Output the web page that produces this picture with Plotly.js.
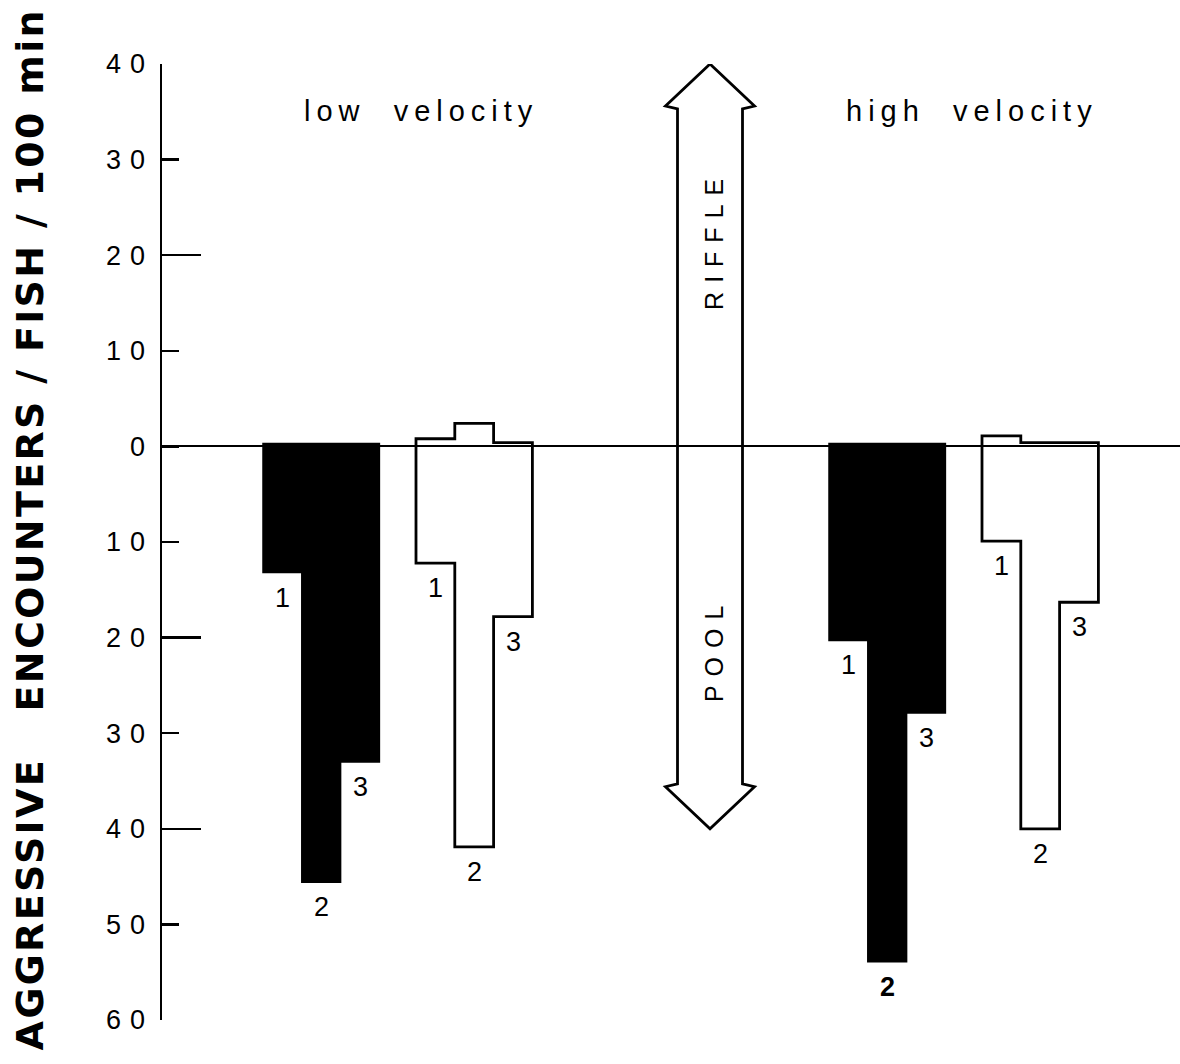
<!DOCTYPE html>
<html>
<head>
<meta charset="utf-8">
<script src="https://cdn.plot.ly/plotly-3.0.1.min.js"></script>
<style>
  html, body { margin: 0; padding: 0; background: #fff; }
  #chart { width: 1180px; height: 1064px; }
  .annotation[data-index="0"] text { letter-spacing: 2.3px; }
  .annotation[data-index="1"] text, .annotation[data-index="2"] text { letter-spacing: 6px; }
  .annotation[data-index="3"] text, .annotation[data-index="4"] text { letter-spacing: 9px; }
  .ytick text { letter-spacing: 9px; }
</style>
</head>
<body>
<div id="chart"></div>
<script>
// ---------- data ----------
const velocities = ['low velocity', 'high velocity'];
const trials = ['1', '2', '3'];
const zoneUp = 'RIFFLE';
const zoneDown = 'POOL';
const yTitle = 'AGGRESSIVE\u00a0\u00a0\u00a0ENCOUNTERS / FISH / 100 min';
const yTickVals = [40, 30, 20, 10, 0, -10, -20, -30, -40, -50, -60];
const yTickText = ['40', '30', '20', '10', '0', '10', '20', '30', '40', '50', '60'];
const yLongTicks = [40, 20, -20, -40, -60];

// encounters in riffle (up) and pool (down), trials 1..3
const lowFilledRiffle = [0.3, 0.3, 0.3];
const lowFilledPool = [13.2, 45.6, 33.0];
const lowOpenRiffle = [0.8, 2.4, 0.4];
const lowOpenPool = [12.2, 41.9, 17.8];
const highFilledRiffle = [0.3, 0.3, 0.3];
const highFilledPool = [20.3, 53.9, 27.9];
const highOpenRiffle = [1.1, 0.4, 0.4];
const highOpenPool = [9.9, 40.0, 16.3];

// ---------- layout constants ----------
const BW = 38.8;
const groups = [
  {start: 101, riffle: lowFilledRiffle, pool: lowFilledPool, filled: true},
  {start: 254, riffle: lowOpenRiffle, pool: lowOpenPool, filled: false},
  {start: 667, riffle: highFilledRiffle, pool: highFilledPool, filled: true},
  {start: 820, riffle: highOpenRiffle, pool: highOpenPool, filled: false}
];

function outline(g) {
  const xs = [g.start], ys = [0];
  const n = g.riffle.length;
  for (let i = 0; i < n; i++) {
    xs.push(g.start + i * BW, g.start + (i + 1) * BW);
    ys.push(g.riffle[i], g.riffle[i]);
  }
  for (let i = n - 1; i >= 0; i--) {
    xs.push(g.start + (i + 1) * BW, g.start + i * BW);
    ys.push(-g.pool[i], -g.pool[i]);
  }
  xs.push(g.start); ys.push(0);
  return {xs, ys};
}

const traces = groups.map(g => {
  const o = outline(g);
  return {
    type: 'scatter', mode: 'lines', x: o.xs, y: o.ys,
    fill: g.filled ? 'toself' : 'none',
    fillcolor: '#000',
    line: {color: '#000', width: g.filled ? 1.5 : 2.8},
    hoverinfo: 'skip', showlegend: false
  };
});
traces.push({type: 'scatter', mode: 'markers', x: [0], y: [0], yaxis: 'y2',
  marker: {opacity: 0}, hoverinfo: 'skip', showlegend: false});

const font = 'Liberation Sans, Arial, sans-serif';
const annotations = [
  {text: yTitle, xref: 'paper', yref: 'paper', x: -0.1297, y: 0.514,
   xanchor: 'center', yanchor: 'middle', textangle: -90, showarrow: false,
   font: {family: 'DejaVu Sans, sans-serif', size: 38, color: '#000', weight: 'bold'}},
  {text: velocities[0].replace(' ', '\u00a0\u00a0'), xref: 'x', yref: 'y', x: 421 - 162, y: 35.1,
   showarrow: false, xanchor: 'center', yanchor: 'middle', font: {family: font, size: 29, color: '#000'}},
  {text: velocities[1].replace(' ', '\u00a0\u00a0'), xref: 'x', yref: 'y', x: 972 - 162, y: 35.1,
   showarrow: false, xanchor: 'center', yanchor: 'middle', font: {family: font, size: 29, color: '#000'}},
  {text: zoneUp, xref: 'x', yref: 'y', x: 714 - 162, y: 21.6, textangle: -90,
   showarrow: false, xanchor: 'center', yanchor: 'middle', font: {family: font, size: 25, color: '#000'}},
  {text: zoneDown, xref: 'x', yref: 'y', x: 714 - 162, y: -21.2, textangle: -90,
   showarrow: false, xanchor: 'center', yanchor: 'middle', font: {family: font, size: 25, color: '#000'}}
];
groups.forEach((g, gi) => {
  g.pool.forEach((v, i) => {
    const bold = (gi === 2 && i === 1);
    annotations.push({
      text: trials[i], xref: 'x', yref: 'y', x: g.start + (i + 0.5) * BW, y: -v,
      xanchor: 'center', yanchor: 'top', yshift: -8, showarrow: false,
      font: {family: font, size: 27, color: '#000', weight: bold ? 'bold' : 'normal'}
    });
  });
});

// double arrow (riffle / pool)
const cx = 710 - 162, sh = 32.5, hh = 44.5;
const arrowPath = `M${cx},40 L${cx + hh},35.6 L${cx + sh},35.3 L${cx + sh},-35.3 L${cx + hh},-35.6 ` +
  `L${cx},-40 L${cx - hh},-35.6 L${cx - sh},-35.3 L${cx - sh},35.3 L${cx - hh},35.6 Z`;

const layout = {
  width: 1180, height: 1064,
  margin: {l: 162, r: 0, t: 64, b: 44, pad: 0},
  paper_bgcolor: '#fff', plot_bgcolor: '#fff',
  showlegend: false,
  xaxis: {range: [0, 1018], visible: false, fixedrange: true},
  yaxis: {
    range: [-60, 40], tickmode: 'array', tickvals: yTickVals, ticktext: yTickText,
    ticks: 'inside', ticklen: 17, tickwidth: 2.5, tickcolor: '#000',
    showline: true, linewidth: 2.5, linecolor: '#000',
    showgrid: false, zeroline: true, zerolinewidth: 2, zerolinecolor: '#000',
    tickfont: {family: font, size: 27, color: '#000'}, fixedrange: true
  },
  yaxis2: {
    overlaying: 'y', anchor: 'x', side: 'left', range: [-60, 40],
    tickmode: 'array', tickvals: yLongTicks, ticks: 'inside', ticklen: 39,
    tickwidth: 2.5, tickcolor: '#000', showticklabels: false,
    showgrid: false, zeroline: false, showline: false, fixedrange: true
  },
  shapes: [{type: 'path', xref: 'x', yref: 'y', path: arrowPath,
    line: {color: '#000', width: 2.8}, fillcolor: 'rgba(0,0,0,0)'}],
  annotations: annotations
};

Plotly.newPlot('chart', traces, layout, {staticPlot: true, displayModeBar: false});
</script>
</body>
</html>
